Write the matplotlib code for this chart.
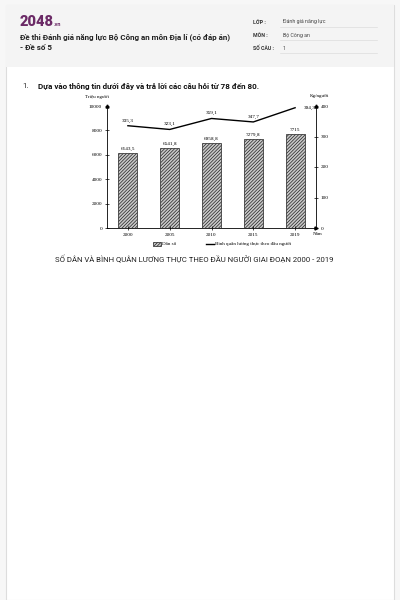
import numpy as np
import matplotlib.pyplot as plt
from matplotlib.patches import Rectangle
from matplotlib.lines import Line2D

# Data
years = ["2000", "2005", "2010", "2015", "2019"]
dan_so = [6143.5, 6541.8, 6958.8, 7279.8, 7715.0]          # Triệu người
binh_quan = [335.3, 323.1, 359.1, 347.7, 394.3]            # Kg/người
left_ticks = [0, 2000, 4000, 6000, 8000, 10000]
right_ticks = [0, 100, 200, 300, 400]

plt.rcParams["hatch.linewidth"] = 0.5

W, H = 400, 600
fig = plt.figure(figsize=(4, 6), dpi=100)
fig.patch.set_facecolor("#f7f7f7")

def px(x, y):
    # pixel coords (top-left origin) -> figure fraction
    return x / W, 1 - y / H

# page card + header
fig.patches.append(Rectangle(px(6, 600), 388 / W, 595 / H, transform=fig.transFigure,
                             facecolor="white", edgecolor="#dddddd", lw=0.8, zorder=-10))
fig.patches.append(Rectangle(px(6, 67), 388 / W, 62 / H, transform=fig.transFigure,
                             facecolor="#f4f4f4", edgecolor="none", zorder=-9))

sans = "Roboto"
fig.text(*px(20, 22), "2048", fontsize=10.5, fontweight="heavy", color="#6b2a66",
         family=sans, va="center")
fig.text(*px(54, 24), ".vn", fontsize=4, fontweight="bold", color="#6b2a66",
         family=sans, va="center")
fig.text(*px(20, 37), "Đề thi Đánh giá năng lực Bộ Công an môn Địa lí (có đáp án)",
         fontsize=5.8, fontweight="bold", color="#222222", family=sans, va="center")
fig.text(*px(20, 48), "- Đề số 5", fontsize=5.8, fontweight="bold", color="#222222",
         family=sans, va="center")

fields = [("LỚP :", "Đánh giá năng lực", 22), ("MÔN :", "Bộ Công an", 35), ("SỐ CÂU :", "1", 48)]
for lab, val, yy in fields:
    fig.text(*px(253, yy), lab, fontsize=3.8, fontweight="bold", color="#333333",
             family=sans, va="center")
    fig.text(*px(283, yy), val, fontsize=3.8, color="#444444", family=sans, va="center")
    fig.add_artist(Line2D([280 / W, 377 / W], [1 - (yy + 5) / H] * 2, color="#dddddd", lw=0.5))

fig.text(*px(22, 86), "1.", fontsize=5.8, color="#333333", family=sans, va="center")
fig.text(*px(38, 86), "Dựa vào thông tin dưới đây và trả lời các câu hỏi từ 78 đến 80.",
         fontsize=5.8, fontweight="bold", color="#111111", family=sans, va="center")

# chart
serif = "Liberation Serif"
ax = fig.add_axes([107 / W, 1 - 228 / H, (316 - 107) / W, (228 - 106) / H])
x = np.arange(len(years))
bars = ax.bar(x, dan_so, width=0.45, color="#c8c8c8", edgecolor="#222222", hatch="//////////",
              lw=0.5, label="Dân số")
ax.set_xlim(-0.5, 4.5)
ax.set_ylim(0, 10000)
ax.set_yticks(left_ticks)
ax.set_yticklabels([str(t) for t in left_ticks])
ax.set_xticks(x)
ax.set_xticklabels(years)
for s in ["top", "right"]:
    ax.spines[s].set_visible(False)
for s in ["left", "bottom"]:
    ax.spines[s].set_linewidth(0.6)
ax.tick_params(direction="inout", length=3, width=0.5, labelsize=3.8, pad=2)
for lbl in ax.get_xticklabels() + ax.get_yticklabels():
    lbl.set_family(serif)
for xi, v in zip(x, dan_so):
    ax.text(xi, v + 150, f"{v:g}".replace(".", ","), ha="center", va="bottom",
            fontsize=3.8, family=serif)
ax.plot(-0.5, 10000, marker="^", ms=2.2, color="black", clip_on=False)

ax2 = ax.twinx()
ax2.set_ylim(0, 400)
ax2.set_yticks(right_ticks)
ax2.set_yticklabels([str(t) for t in right_ticks])
ax2.plot(x, binh_quan, color="black", lw=1.0, label="Bình quân lương thực theo đầu người")
for s in ["top", "left", "bottom"]:
    ax2.spines[s].set_visible(False)
ax2.spines["right"].set_linewidth(0.6)
ax2.tick_params(direction="inout", length=3, width=0.5, labelsize=3.8, pad=2)
for lbl in ax2.get_yticklabels():
    lbl.set_family(serif)
for xi, v in zip(x[:-1], binh_quan[:-1]):
    ax2.text(xi, v + 10, f"{v:g}".replace(".", ","), ha="center", va="bottom",
             fontsize=3.8, family=serif)
ax2.text(x[-1] + 0.2, binh_quan[-1], f"{binh_quan[-1]:g}".replace(".", ","),
         ha="left", va="center", fontsize=3.8, family=serif)
ax2.plot(4.5, 400, marker="^", ms=2.2, color="black", clip_on=False)
ax2.plot(4.5, 0, marker=">", ms=2.2, color="black", clip_on=False)

fig.text(*px(97, 97), "Triệu người", fontsize=3.6, family=serif, ha="center", va="center")
fig.text(*px(319, 96), "Kg/người", fontsize=3.6, family=serif, ha="center", va="center")
fig.text(*px(318, 234), "Năm", fontsize=3.6, family=serif, ha="center", va="center")

handles = [bars, ax2.lines[0]]
fig.legend(handles, [h.get_label() for h in handles], loc="center",
           bbox_to_anchor=px(222, 244), ncol=2, frameon=False,
           prop={"family": serif, "size": 3.6}, handlelength=1.6, handleheight=0.8,
           handletextpad=0.2, columnspacing=6)

fig.text(*px(194, 259), "SỐ DÂN VÀ BÌNH QUÂN LƯƠNG THỰC THEO ĐẦU NGƯỜI GIAI ĐOẠN 2000 - 2019",
         fontsize=5.6, color="#222222", family=sans, ha="center", va="center")

fig.savefig("out.png", dpi=100, facecolor=fig.get_facecolor())
